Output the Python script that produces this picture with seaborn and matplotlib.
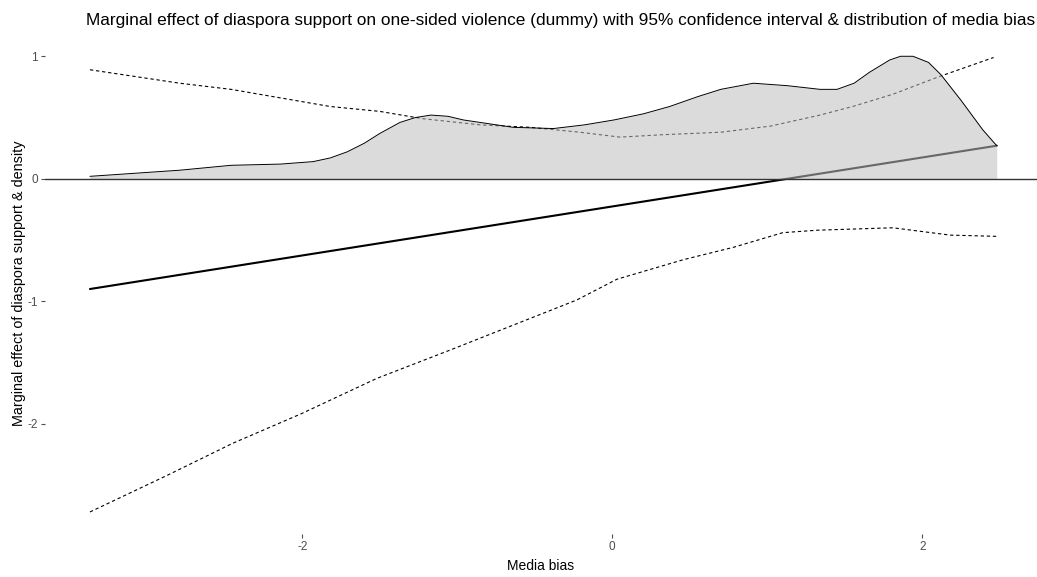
import numpy as np
import pandas as pd
import matplotlib
matplotlib.use("Agg")
import matplotlib.pyplot as plt
import seaborn as sns

# values
media_bias = [-3.37, 2.48]
effect = [-0.90, 0.27]

upper_x = [-3.37, -2.79, -2.46, -2.14, -1.82, -1.50, -1.22, -0.85, -0.53, -0.21, 0.05, 0.33,
           0.70, 1.02, 1.34, 1.55, 1.81, 2.10, 2.46]
upper_y = [0.89, 0.78, 0.73, 0.66, 0.59, 0.55, 0.49, 0.44, 0.42, 0.38, 0.34, 0.36,
           0.38, 0.43, 0.52, 0.59, 0.69, 0.83, 0.99]

lower_x = [-3.37, -2.87, -2.45, -2.01, -1.52, -1.05, -0.61, -0.23, 0.03, 0.46, 0.78, 1.10,
           1.32, 1.81, 2.18, 2.48]
lower_y = [-2.72, -2.42, -2.16, -1.92, -1.63, -1.40, -1.18, -0.99, -0.82, -0.66, -0.56, -0.44,
           -0.42, -0.40, -0.46, -0.47]

dens_x = [-3.37, -2.79, -2.46, -2.14, -1.93, -1.82, -1.71, -1.60, -1.50, -1.37, -1.27, -1.17,
          -1.06, -0.96, -0.80, -0.64, -0.38, -0.18, 0.01, 0.20, 0.37, 0.55, 0.70, 0.91, 1.13,
          1.34, 1.45, 1.56, 1.66, 1.79, 1.86, 1.94, 2.04, 2.12, 2.25, 2.39, 2.48]
dens_y = [0.02, 0.07, 0.11, 0.12, 0.14, 0.17, 0.22, 0.29, 0.37, 0.46, 0.50, 0.52,
          0.51, 0.48, 0.45, 0.42, 0.41, 0.44, 0.48, 0.53, 0.59, 0.67, 0.73, 0.78, 0.76,
          0.73, 0.73, 0.78, 0.87, 0.97, 1.00, 1.00, 0.95, 0.85, 0.64, 0.40, 0.27]

sns.set_theme(style="white")
plt.rcParams["font.family"] = ["Liberation Sans", "DejaVu Sans"]
plt.rcParams["axes.unicode_minus"] = False

fig = plt.figure(figsize=(10.37, 5.77), dpi=100)
ax = fig.add_axes([0.0434, 0.0745, 0.9566, 0.8683])

sns.lineplot(x=media_bias, y=effect, color="black", linewidth=1.5, ax=ax, zorder=1)
sns.lineplot(x=upper_x, y=upper_y, color="black", linewidth=0.8, ax=ax, zorder=1)
sns.lineplot(x=lower_x, y=lower_y, color="black", linewidth=0.8, ax=ax, zorder=1)
for ln in ax.lines[1:3]:
    ln.set_linestyle((0, (3, 2.5)))

ax.fill_between(dens_x, 0, dens_y, color="#bebebe", alpha=0.55, linewidth=0, zorder=2)
sns.lineplot(x=dens_x, y=dens_y, color="black", linewidth=0.7, ax=ax, zorder=3)
ax.axhline(0, color="#333333", linewidth=1.0, zorder=4)

ax.set_xlim(-3.66, 2.74)
ax.set_ylim(-2.90, 1.19)
ax.set_xticks([-2, 0, 2])
ax.set_yticks([-2, -1, 0, 1])
ax.tick_params(axis="both", colors="#4d4d4d", labelsize=8.5, length=3, width=0.8,
               bottom=True, left=True, pad=2)
sns.despine(ax=ax, left=True, bottom=True)

ax.set_xlabel("Media bias", fontsize=10, color="black", labelpad=4)
ax.set_ylabel("Marginal effect of diaspora support & density", fontsize=10.4, color="black", labelpad=1)
ax.set_title("Marginal effect of diaspora support on one-sided violence (dummy) with 95% "
             "confidence interval & distribution of media bias", fontsize=12.4, color="black",
             x=0.52, pad=6)

fig.savefig("out.png", dpi=100)
